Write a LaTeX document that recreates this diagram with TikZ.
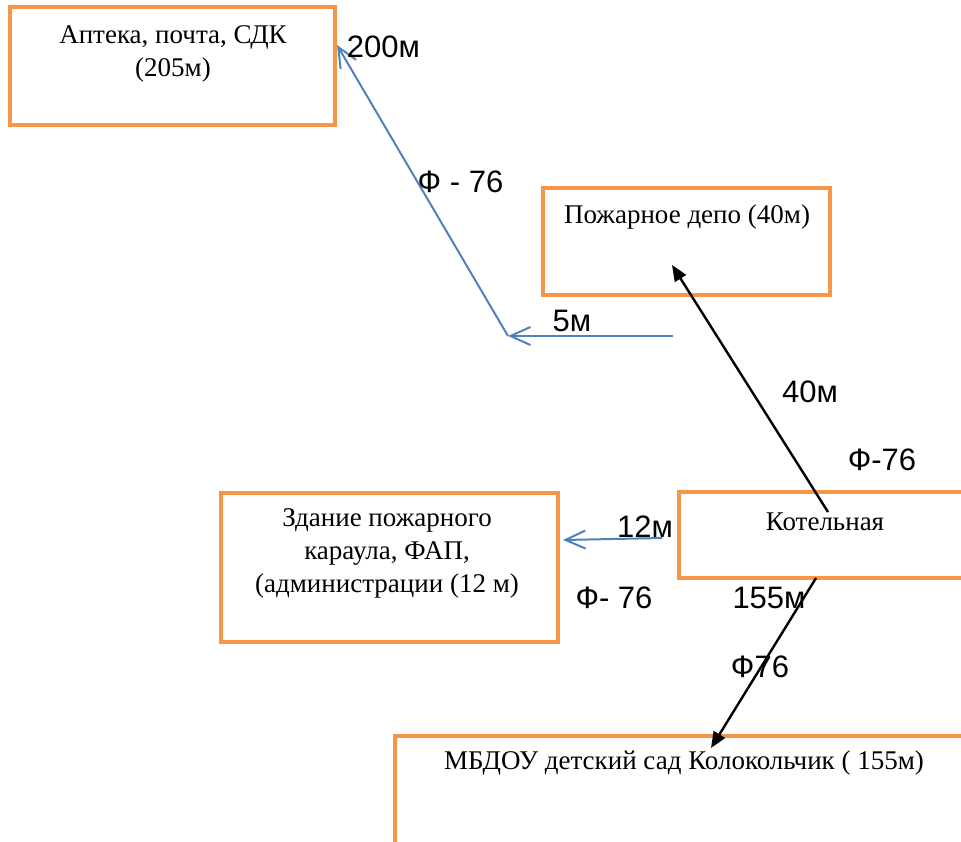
\documentclass[tikz,border=0pt]{standalone}
\usepackage{fontspec}
\setmainfont{Liberation Serif}
\setsansfont{Liberation Sans}
\usetikzlibrary{arrows.meta}
\definecolor{boxorange}{RGB}{247,150,70}
\definecolor{pipeblue}{RGB}{79,129,189}

\begin{document}
\begin{tikzpicture}[x=0.5pt,y=-0.5pt,
        frame/.style={draw=boxorange,line width=2.4pt,inner sep=0pt},
        boxtext/.style={font=\fontsize{13.5}{16.5}\selectfont,align=center,inner sep=0pt},
        dist/.style={font=\sffamily\fontsize{15.5}{18}\selectfont,inner sep=0pt},
        pipe/.style={draw=pipeblue,line width=1pt,-{Straight Barb[length=10pt,width=9pt]}},
        feed/.style={draw=black,line width=1.2pt,-{Triangle[length=8pt,width=6.5pt]}}]
            \useasboundingbox (0,0) rectangle (961,841);
            \clip (0,0) rectangle (961,841);

            % buildings
            \node[frame,minimum width=162.5pt,minimum height=59pt] (apteka) at (172.5,66) {};
            \node[frame,minimum width=143.5pt,minimum height=53.5pt] (depo) at (686.5,241.5) {};
            \node[frame,minimum width=146pt,minimum height=43pt] (kotel) at (825,535) {};
            \node[frame,minimum width=168.5pt,minimum height=74.5pt] (karaul) at (389.5,567.5) {};
            \node[frame,minimum width=289pt,minimum height=57pt] (sad) at (684,793) {};

            \node[boxtext] (apteka text) at (173,54) {Аптека, почта, СДК\\(205м)};
            \node[boxtext] (depo text) at (687,217) {Пожарное депо (40м)};
            \node[boxtext] (kotel text) at (825,522) {Котельная};
            \node[boxtext] (karaul text) at (387,553) {Здание пожарного\\караула, ФАП,\\(администрации (12 м)};
            \node[boxtext] (sad text) at (684,763) {МБДОУ детский сад Колокольчик ( 155м)};

            % pipe ends
            \coordinate (b0) at (673,336);
            \coordinate (b1) at (508,336);
            \coordinate (b2) at (337,45);
            \coordinate (c0) at (662,538);
            \coordinate (c1) at (563,540);
            \coordinate (k0) at (828,512);
            \coordinate (k1) at (672,265);
            \coordinate (k2) at (816,578);
            \coordinate (k3) at (711,748);

            \draw[pipe] (b0) -- (b1);
            \draw[pipe] (b1) -- (b2);
            \draw[pipe] (c0) -- (c1);
            \draw[feed] (k0) -- (k1);
            \draw[feed] (k2) -- (k3);

            % lengths and diameters
            \node[dist] (l200) at (383.5,47) {200м};
            \node[dist] (phi1) at (460.5,182) {Ф - 76};
            \node[dist] (l5) at (572,321) {5м};
            \node[dist] (l40) at (810,392) {40м};
            \node[dist] (phi2) at (882,460) {Ф-76};
            \node[dist] (l12) at (645,527) {12м};
            \node[dist] (phi3) at (614,598) {Ф- 76};
            \node[dist] (l155) at (769,598) {155м};
            \node[dist] (phi4) at (760,667) {Ф76};

        \end{tikzpicture}
\end{document}
